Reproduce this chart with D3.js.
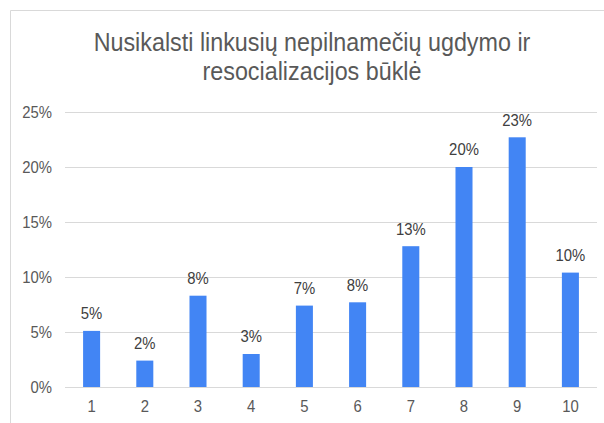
<!DOCTYPE html>
<html>
<head>
<meta charset="utf-8">
<script src="https://cdn.jsdelivr.net/npm/d3@7"></script>
<style>
  body { margin: 0; background: #fff; }
  text { font-family: "Liberation Sans", Arial, sans-serif; }
</style>
</head>
<body>
<div id="plot"></div>
<script>
// Chart data.
const titleLines = ['Nusikalsti linkusių nepilnamečių ugdymo ir', 'resocializacijos būklė'];
const categories = ['1', '2', '3', '4', '5', '6', '7', '8', '9', '10'];
const values = [0.051, 0.024, 0.083, 0.030, 0.074, 0.077, 0.128, 0.200, 0.227, 0.104];
const yTicks = [0, 0.05, 0.10, 0.15, 0.20, 0.25];

const width = 604, height = 423;
const margin = {top: 112, right: 7, bottom: 36, left: 65};

// the source picture has narrow lettering, squeeze text horizontally around its anchor
function squeeze(sel, s) {
    sel.each(function () {
        const t = d3.select(this);
        const x0 = +t.attr('x') || 0;
        t.attr('transform', `translate(${x0},0) scale(${s},1) translate(${-x0},0)`);
    });
}

const svg = d3.select('#plot')
    .append('svg')
    .attr('width', width)
    .attr('height', height);

// frame around the chart
svg.append('path')
    .attr('d', `M10.5,${height} V10.5 H${width}`)
    .attr('fill', 'none')
    .attr('stroke', '#d9d9d9')
    .attr('stroke-width', 1);

const x = d3.scaleBand()
    .domain(categories)
    .range([margin.left, width - margin.right])
    .paddingInner(0.68)
    .paddingOuter(0.34);

const y = d3.scaleLinear()
    .domain([0, 0.25])
    .range([height - margin.bottom, margin.top]);

// title
const title = svg.append('text')
    .attr('x', 312)
    .attr('y', 51)
    .attr('text-anchor', 'middle')
    .attr('font-size', '26px')
    .attr('fill', '#595959');
title.selectAll('tspan')
    .data(titleLines)
    .enter()
    .append('tspan')
    .attr('x', 312)
    .attr('dy', (d, i) => i === 0 ? 0 : 29)
    .text(d => d);
squeeze(title, 0.897);

// gridlines + y labels
const yAxis = svg.append('g')
    .attr('transform', `translate(${margin.left},0)`)
    .call(d3.axisLeft(y)
        .tickValues(yTicks)
        .tickFormat(d3.format('.0%'))
        .tickSize(-(width - margin.left - margin.right))
        .tickPadding(13));
yAxis.select('.domain').remove();
yAxis.selectAll('.tick line').attr('stroke', '#d9d9d9');
yAxis.selectAll('.tick text')
    .attr('fill', '#595959')
    .attr('font-size', '16px')
    .call(squeeze, 0.93);

// x labels
const xAxis = svg.append('g')
    .attr('transform', `translate(0,${height - margin.bottom})`)
    .call(d3.axisBottom(x).tickSize(0).tickPadding(14));
xAxis.select('.domain').remove();
xAxis.selectAll('.tick text')
    .attr('fill', '#595959')
    .attr('font-size', '16px')
    .call(squeeze, 0.93);

// bars
svg.selectAll('.bar')
    .data(values)
    .enter()
    .append('rect')
    .attr('class', 'bar')
    .attr('x', (d, i) => x(categories[i]))
    .attr('y', d => y(d))
    .attr('width', x.bandwidth())
    .attr('height', d => y(0) - y(d))
    .attr('fill', '#4285f4');

// value labels
svg.selectAll('.val')
    .data(values)
    .enter()
    .append('text')
    .attr('class', 'val')
    .attr('x', (d, i) => x(categories[i]) + x.bandwidth() / 2)
    .attr('y', d => y(d) - 11.5)
    .attr('text-anchor', 'middle')
    .attr('font-size', '16px')
    .attr('fill', '#404040')
    .text(d => d3.format('.0%')(d))
    .call(squeeze, 0.93);
</script>
</body>
</html>
